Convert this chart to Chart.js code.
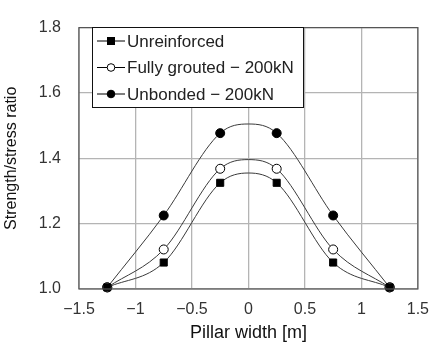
<!DOCTYPE html>
<html>
<head>
<meta charset="utf-8">
<script src="https://cdn.jsdelivr.net/npm/chart.js@4"></script>
<style>
  html, body { margin: 0; padding: 0; background: #fff; }
  #wrap { width: 440px; height: 345px; }
</style>
</head>
<body>
<div id="wrap"><canvas id="chart" width="440" height="345"></canvas></div>
<script>
// values
const pillarX = [-1.25, -0.75, -0.25, 0, 0.25, 0.75, 1.25];
const unreinforced = [1.005, 1.081, 1.325, 1.355, 1.325, 1.081, 1.005];
const fullyGrouted = [1.005, 1.121, 1.368, 1.396, 1.368, 1.121, 1.005];
const unbonded = [1.005, 1.225, 1.477, 1.505, 1.477, 1.225, 1.005];
const seriesNames = ['Unreinforced', 'Fully grouted \u2212 200kN', 'Unbonded \u2212 200kN'];
const xTicks = [-1.5, -1, -0.5, 0, 0.5, 1, 1.5];
const yTicks = [1.0, 1.2, 1.4, 1.6, 1.8];

const fontFam = '"Liberation Sans", Arial, sans-serif';
const lineCol = '#3a3a3a';

const toPoints = (ys) => pillarX.map((x, i) => ({ x, y: ys[i] }));
// x = 0 is only a curve point, no marker there
const markerRadius = (r) => (ctx) => (ctx.raw && ctx.raw.x === 0 ? 0 : r);

const makeSet = (label, ys, style, radius, fill) => ({
  label,
  data: toPoints(ys),
  borderColor: lineCol,
  borderWidth: 1,
  cubicInterpolationMode: 'monotone',
  pointStyle: style,
  pointRadius: markerRadius(radius),
  pointBackgroundColor: fill,
  pointBorderColor: '#000',
  pointBorderWidth: 1,
  clip: false,
});

const legendMarks = [
  { style: 'rect', fill: '#000' },
  { style: 'circle', fill: '#fff' },
  { style: 'circle', fill: '#000' },
];

const framePlugin = {
  id: 'frame',
  afterDatasetsDraw(chart) {
    const { ctx, chartArea: a } = chart;
    ctx.save();
    ctx.strokeStyle = '#555';
    ctx.lineWidth = 1.2;
    ctx.strokeRect(a.left, a.top, a.right - a.left, a.bottom - a.top);
    ctx.restore();
  },
};

const boxLegend = {
  id: 'boxLegend',
  afterDraw(chart) {
    const ctx = chart.ctx;
    const bx = 92, by = 27, bw = 211, bh = 80;
    ctx.save();
    ctx.fillStyle = '#fff';
    ctx.fillRect(bx, by, bw, bh);
    ctx.strokeStyle = '#111';
    ctx.lineWidth = 1;
    ctx.strokeRect(bx + 0.5, by + 0.5, bw, bh);
    ctx.font = '17px ' + fontFam;
    ctx.textBaseline = 'middle';
    seriesNames.forEach((name, i) => {
      const y = 41 + i * 26.5;
      ctx.strokeStyle = '#000';
      ctx.lineWidth = 1;
      ctx.beginPath();
      ctx.moveTo(97, y);
      ctx.lineTo(125, y);
      ctx.stroke();
      const m = legendMarks[i];
      ctx.fillStyle = m.fill;
      if (m.style === 'rect') {
        ctx.fillRect(107, y - 4, 8, 8);
      } else {
        ctx.beginPath();
        ctx.arc(111, y, 3.8, 0, Math.PI * 2);
        ctx.fill();
        ctx.stroke();
      }
      ctx.fillStyle = '#222';
      ctx.fillText(name, 127, y + 1);
    });
    ctx.restore();
  },
};

new Chart(document.getElementById('chart'), {
  type: 'line',
  data: {
    datasets: [
      makeSet(seriesNames[0], unreinforced, 'rect', 5, '#000'),
      makeSet(seriesNames[1], fullyGrouted, 'circle', 4.5, '#fff'),
      makeSet(seriesNames[2], unbonded, 'circle', 4.5, '#000'),
    ],
  },
  options: {
    responsive: false,
    animation: false,
    layout: { padding: { top: 15, right: 12, left: 0, bottom: 0 } },
    plugins: { legend: { display: false }, tooltip: { enabled: false } },
    scales: {
      x: {
        type: 'linear',
        min: -1.5,
        max: 1.5,
        afterBuildTicks: (s) => { s.ticks = xTicks.map((v) => ({ value: v })); },
        afterFit: (s) => { s.height = 56; },
        grid: { color: '#b4b4b4', lineWidth: 1.3, drawTicks: false },
        border: { display: false },
        ticks: {
          padding: 11,
          color: '#333',
          font: { family: fontFam, size: 16 },
          callback: (v) => (v < 0 ? '\u2212' + Math.abs(v) : String(v)),
        },
        title: {
          display: true,
          text: 'Pillar width [m]',
          color: '#111',
          font: { family: fontFam, size: 18 },
          padding: { top: 0, bottom: 1 },
        },
      },
      y: {
        min: 1.0,
        max: 1.8,
        afterBuildTicks: (s) => { s.ticks = yTicks.map((v) => ({ value: v })); },
        afterFit: (s) => { s.width = 79; },
        grid: { color: '#b4b4b4', lineWidth: 1.3, drawTicks: false },
        border: { display: false },
        ticks: {
          padding: 18,
          color: '#333',
          font: { family: fontFam, size: 16 },
          callback: (v) => v.toFixed(1),
        },
        title: {
          display: true,
          text: 'Strength/stress ratio',
          color: '#111',
          font: { family: fontFam, size: 16 },
          padding: { top: 2, bottom: 0 },
        },
      },
    },
  },
  plugins: [framePlugin, boxLegend],
});
</script>
</body>
</html>
